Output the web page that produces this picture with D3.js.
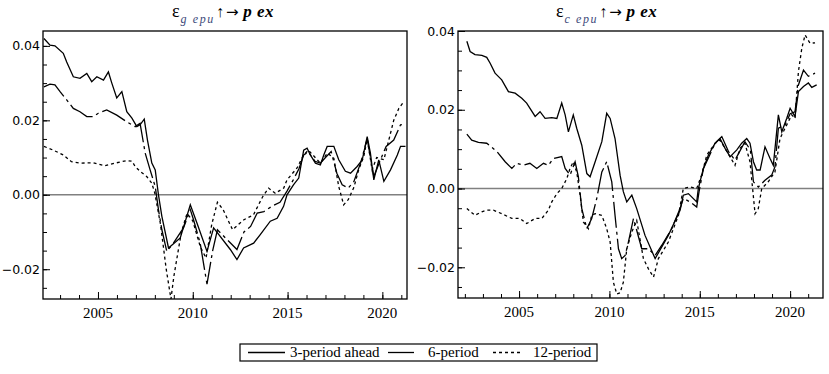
<!DOCTYPE html>
<html>
<head>
<meta charset="utf-8">
<script src="https://cdn.jsdelivr.net/npm/d3@7"></script>
<style>
  body { margin: 0; background: #fff; }
  svg text { fill: #000; }
  .ylab { font-family: "DejaVu Sans", sans-serif; font-size: 12.5px; }
  .xlab { font-family: "Liberation Serif", serif; font-size: 15px; }
  .ttl { font-family: "Liberation Serif", serif; }
  .leg { font-family: "Liberation Serif", serif; font-size: 15px; }
</style>
</head>
<body>
<div id="chart"></div>
<script>
// series: [year, response]
const gSolid = [[2002.15,0.042],[2002.47,0.0402],[2002.73,0.040],[2003.17,0.038],[2003.35,0.0357],[2003.70,0.0317],[2004.05,0.0313],[2004.41,0.0326],[2004.67,0.0304],[2004.94,0.0317],[2005.29,0.0308],[2005.55,0.033],[2005.73,0.030],[2005.99,0.026],[2006.26,0.0277],[2006.52,0.0223],[2006.79,0.0206],[2007.05,0.0183],[2007.22,0.0188],[2007.44,0.0203],[2007.61,0.0147],[2007.84,0.0085],[2008.02,0.0067],[2008.19,0.0],[2008.37,-0.0058],[2008.72,-0.0143],[2009.34,-0.0116],[2009.87,-0.0027],[2010.22,-0.0076],[2010.75,-0.0152],[2011.10,-0.0089],[2011.98,-0.0147],[2012.33,-0.0174],[2012.68,-0.0143],[2013.21,-0.013],[2013.56,-0.0107],[2014.09,-0.0071],[2014.45,-0.0063],[2014.79,-0.0031],[2014.97,0],[2015.32,0.0027],[2015.59,0.0045],[2015.85,0.012],[2016.03,0.0125],[2016.20,0.0107],[2016.47,0.0085],[2016.73,0.008],[2016.91,0.0107],[2017.09,0.013],[2017.44,0.013],[2017.70,0.0094],[2018.05,0.0063],[2018.32,0.0058],[2018.67,0.0076],[2018.94,0.0094],[2019.20,0.0156],[2019.37,0.0112],[2019.55,0.004],[2019.81,0.0094],[2020.08,0.0036],[2020.43,0.0067],[2020.79,0.0107],[2020.96,0.013],[2021.22,0.013]]
const gDash = [[2002.15,0.029],[2002.47,0.0297],[2002.73,0.0295],[2003.0,0.0277],[2003.35,0.0255],[2003.70,0.0232],[2004.05,0.0223],[2004.41,0.021],[2004.76,0.021],[2005.02,0.0219],[2005.46,0.0228],[2005.99,0.0214],[2006.52,0.0196],[2006.96,0.0183],[2007.22,0.0192],[2007.49,0.0112],[2007.75,0.0067],[2008.02,0.0022],[2008.19,-0.004],[2008.37,-0.0094],[2008.63,-0.0152],[2008.98,-0.013],[2009.51,-0.0089],[2009.87,-0.004],[2010.04,-0.0067],[2010.39,-0.013],[2010.75,-0.024],[2011.05,-0.015],[2011.3,-0.0094],[2011.8,-0.012],[2012.33,-0.0147],[2012.7,-0.01],[2013.05,-0.0085],[2013.4,-0.0049],[2013.75,-0.0045],[2014.2,-0.003],[2014.6,-0.002],[2014.97,0.001],[2015.3,0.004],[2015.6,0.007],[2015.85,0.0107],[2016.1,0.0115],[2016.45,0.009],[2016.73,0.0085],[2017.0,0.01],[2017.3,0.0116],[2017.6,0.0058],[2017.88,0.0027],[2018.2,0.0018],[2018.5,0.0036],[2018.85,0.0085],[2019.2,0.015],[2019.55,0.0049],[2019.9,0.0094],[2020.2,0.013],[2020.6,0.0147],[2020.96,0.0188],[2021.2,0.019]]
const gDot = [[2002.15,0.013],[2002.64,0.012],[2003.17,0.0107],[2003.6,0.0089],[2004.05,0.0085],[2004.76,0.0086],[2005.38,0.0078],[2005.9,0.0085],[2006.52,0.0092],[2006.8,0.009],[2006.96,0.0076],[2007.22,0.0063],[2007.57,0.0049],[2007.84,0.0031],[2008.0,0.0004],[2008.3,-0.008],[2008.6,-0.02],[2008.85,-0.028],[2009.0,-0.022],[2009.4,-0.01],[2009.7,-0.005],[2010.0,-0.007],[2010.4,-0.014],[2010.7,-0.017],[2011.0,-0.008],[2011.3,-0.002],[2011.6,-0.004],[2012.1,-0.0094],[2012.4,-0.008],[2012.7,-0.0067],[2013.2,-0.0054],[2013.7,-0.0004],[2014.0,0.0018],[2014.35,0.0004],[2014.8,0.0018],[2014.97,0.004],[2015.5,0.0072],[2015.85,0.0107],[2016.1,0.012],[2016.73,0.0085],[2017.1,0.0112],[2017.44,0.0098],[2017.7,0.0022],[2017.96,-0.0027],[2018.2,-0.0013],[2018.5,0.002],[2018.75,0.0067],[2019.02,0.0103],[2019.2,0.015],[2019.46,0.0067],[2019.7,0.01],[2020.08,0.0094],[2020.34,0.0147],[2020.6,0.02],[2020.87,0.0232],[2021.13,0.025]]

const cSolid = [[2002.11,0.0374],[2002.29,0.0348],[2002.56,0.034],[2002.94,0.0338],[2003.21,0.0333],[2003.40,0.0318],[2003.67,0.0293],[2004.04,0.0276],[2004.41,0.0246],[2004.78,0.0242],[2005.15,0.0229],[2005.42,0.0217],[2005.89,0.0183],[2006.16,0.0195],[2006.44,0.0178],[2006.81,0.018],[2007.09,0.0178],[2007.36,0.0217],[2007.55,0.0187],[2007.73,0.0144],[2008.0,0.0187],[2008.19,0.0153],[2008.47,0.011],[2008.75,0.0038],[2008.93,0.003],[2009.21,0.0068],[2009.58,0.0119],[2009.85,0.0191],[2010.04,0.0178],[2010.31,0.0127],[2010.59,0.0034],[2010.77,-0.0008],[2010.96,-0.0034],[2011.24,-0.0017],[2011.51,-0.0051],[2011.97,-0.0119],[2012.53,-0.0178],[2013.26,-0.0119],[2013.91,-0.0055],[2014.09,-0.0017],[2014.37,-0.0013],[2014.83,-0.0034],[2014.92,0],[2015.2,0.0051],[2015.48,0.0085],[2015.85,0.0115],[2016.12,0.0127],[2016.4,0.0102],[2016.68,0.0081],[2017.05,0.0098],[2017.32,0.0115],[2017.6,0.0127],[2017.78,0.0115],[2017.97,0.0068],[2018.15,0.0047],[2018.34,0.0047],[2018.61,0.0106],[2018.89,0.0076],[2019.07,0.0059],[2019.35,0.0187],[2019.54,0.0144],[2019.81,0.0178],[2020.0,0.0204],[2020.27,0.0183],[2020.46,0.0246],[2020.74,0.0259],[2021.01,0.0268],[2021.2,0.0257],[2021.47,0.0263]]
const cDash = [[2002.11,0.0138],[2002.38,0.0123],[2002.75,0.0117],[2003.21,0.0115],[2003.77,0.0094],[2004.23,0.0068],[2004.6,0.0051],[2004.87,0.0064],[2005.24,0.0059],[2005.6,0.0064],[2005.98,0.0051],[2006.35,0.0064],[2006.62,0.0059],[2006.9,0.0076],[2007.36,0.0081],[2007.55,0.0051],[2007.82,0.0034],[2008.1,0.0068],[2008.28,0.003],[2008.47,-0.0051],[2008.75,-0.0102],[2009.02,-0.0076],[2009.3,-0.0025],[2009.58,0.0042],[2009.85,0.0068],[2010.13,0.0017],[2010.31,-0.0068],[2010.5,-0.0153],[2010.68,-0.0178],[2010.87,-0.017],[2011.05,-0.0136],[2011.33,-0.0076],[2011.79,-0.0153],[2012.16,-0.0153],[2012.53,-0.017],[2012.9,-0.0144],[2013.45,-0.0102],[2013.91,-0.0051],[2014.09,-0.0025],[2014.46,-0.0034],[2014.83,-0.0047],[2014.96,-0.0008],[2015.2,0.005],[2015.85,0.0115],[2016.22,0.0132],[2016.6,0.0093],[2016.95,0.0072],[2017.5,0.0119],[2017.8,0.0098],[2017.97,0.0017],[2018.24,0.0004],[2018.61,0.0021],[2018.98,0.0034],[2019.16,0.0055],[2019.35,0.0153],[2019.72,0.0161],[2020.0,0.019],[2020.27,0.0195],[2020.46,0.0263],[2020.74,0.0301],[2021.01,0.0285],[2021.38,0.0293]]
const cDot = [[2002.11,-0.0051],[2002.56,-0.0068],[2002.94,-0.0059],[2003.21,-0.0055],[2003.58,-0.0055],[2004.04,-0.0064],[2004.6,-0.0076],[2005.05,-0.0076],[2005.42,-0.0089],[2005.89,-0.0076],[2006.26,-0.0076],[2006.62,-0.0055],[2006.81,-0.0034],[2007.09,-0.0013],[2007.36,0],[2007.64,0.0025],[2007.82,0.0051],[2008.0,0.0068],[2008.19,0.0042],[2008.38,-0.0017],[2008.56,-0.0085],[2008.84,-0.0102],[2009.02,-0.0068],[2009.21,-0.0064],[2009.58,-0.0068],[2009.85,-0.0102],[2010.04,-0.0136],[2010.22,-0.0238],[2010.41,-0.0268],[2010.59,-0.0265],[2010.77,-0.0238],[2010.96,-0.0153],[2011.24,-0.011],[2011.51,-0.0081],[2011.88,-0.0178],[2012.16,-0.0204],[2012.44,-0.0225],[2012.71,-0.0178],[2013.26,-0.0136],[2013.82,-0.0068],[2014.09,0],[2014.46,0.0004],[2014.83,0],[2015.1,0.0034],[2015.39,0.0085],[2015.85,0.0115],[2016.12,0.0123],[2016.4,0.0102],[2016.95,0.0059],[2017.23,0.0102],[2017.5,0.0115],[2017.78,0.0068],[2018.06,-0.0064],[2018.24,-0.0051],[2018.43,0],[2018.79,0.0017],[2019.16,0.0042],[2019.44,0.0127],[2019.72,0.0153],[2020.09,0.0187],[2020.27,0.0178],[2020.46,0.0297],[2020.65,0.0357],[2020.83,0.039],[2021.1,0.0369],[2021.38,0.037]]

const yTicksMajor = [-0.02, 0.0, 0.02, 0.04]
const xTicksMajor = [2005, 2010, 2015, 2020]
const legendLabels = ['3-period ahead', '6-period', '12-period']
const dashes = [null, '26,4,3,4', '3,3']

const W = 829, H = 374

let svg = d3.select('#chart').append('svg')
  .attr('width', W).attr('height', H)

function drawPanel (opt) {
  let x = d3.scaleLinear().domain(opt.xDomain).range([opt.left, opt.right])
  let y = d3.scaleLinear().domain(opt.yDomain).range([opt.bottom, opt.top])
  let g = svg.append('g')

  // zero line
  g.append('line')
    .attr('x1', opt.left).attr('x2', opt.right)
    .attr('y1', y(0)).attr('y2', y(0))
    .attr('stroke', '#808080').attr('stroke-width', 1.5)

  // series
  let line = d3.line().x(d => x(d[0])).y(d => y(d[1]))
  opt.series.forEach((s, i) => {
    g.append('path')
      .datum(s)
      .attr('d', line)
      .attr('fill', 'none')
      .attr('stroke', '#000')
      .attr('stroke-width', 1.3)
      .attr('stroke-dasharray', dashes[i])
  })

  // y axis: minor ticks every 0.005, labels on 0.02
  let yMinor = d3.range(-0.025, opt.yDomain[1] + 1e-9, 0.005)
    .filter(v => v >= opt.yDomain[0])
  g.append('g').attr('transform', `translate(${opt.left},0)`)
    .call(d3.axisRight(y).tickValues(yMinor).tickSize(4).tickFormat(''))
    .call(a => a.select('.domain').remove())
    .call(a => a.selectAll('line').attr('stroke', '#000'))
  g.append('g').attr('transform', `translate(${opt.left},0)`)
    .call(d3.axisRight(y).tickValues(yTicksMajor).tickSize(7).tickFormat(''))
    .call(a => a.select('.domain').remove())
    .call(a => a.selectAll('line').attr('stroke', '#000'))
  yTicksMajor.forEach(v => {
    g.append('text').classed('ylab', true)
      .attr('x', opt.left - 3).attr('y', y(v) + 4.5)
      .attr('text-anchor', 'end')
      .text(d3.format('.2f')(v))
  })

  // x axis: yearly minor ticks, labels every 5 years
  let years = d3.range(Math.ceil(opt.xDomain[0]), opt.xDomain[1])
  g.append('g').attr('transform', `translate(0,${opt.bottom})`)
    .call(d3.axisTop(x).tickValues(years).tickSize(4).tickFormat(''))
    .call(a => a.select('.domain').remove())
    .call(a => a.selectAll('line').attr('stroke', '#000'))
  g.append('g').attr('transform', `translate(0,${opt.bottom})`)
    .call(d3.axisTop(x).tickValues(xTicksMajor).tickSize(7).tickFormat(''))
    .call(a => a.select('.domain').remove())
    .call(a => a.selectAll('line').attr('stroke', '#000'))
  xTicksMajor.forEach(v => {
    g.append('text').classed('xlab', true)
      .attr('x', x(v)).attr('y', opt.bottom + 19)
      .attr('text-anchor', 'middle')
      .text(v)
  })

  // frame
  g.append('rect')
    .attr('x', opt.left).attr('y', opt.top)
    .attr('width', opt.right - opt.left).attr('height', opt.bottom - opt.top)
    .attr('fill', 'none').attr('stroke', '#000').attr('stroke-width', 1.3)

  // title
  let t = g.append('text').classed('ttl', true)
    .attr('x', opt.titleX).attr('y', 17)
  t.append('tspan').attr('font-size', 18).text('ε')
  t.append('tspan').attr('font-size', 12).attr('font-style', 'italic')
    .attr('letter-spacing', 1.6)
    .attr('fill', '#3d4a7a').attr('dy', 6).attr('dx', 1).text(opt.sub)
  t.append('tspan').attr('font-size', 16).attr('dy', -6).attr('dx', 1)
    .text('↑')
  t.append('tspan').attr('font-size', 15).attr('font-family', 'DejaVu Sans')
    .attr('dx', 2).text('→ ')
  t.append('tspan').attr('font-size', 17).attr('font-style', 'italic')
    .attr('font-weight', 'bold').attr('letter-spacing', 0.5).text('p ex')
}

drawPanel({
  left: 43, right: 407, top: 31, bottom: 299,
  xDomain: [2002.1, 2021.3], yDomain: [-0.028, 0.044],
  series: [gSolid, gDash, gDot],
  sub: 'g epu', titleX: 172
})

drawPanel({
  left: 458, right: 823, top: 31, bottom: 298,
  xDomain: [2001.62, 2021.82], yDomain: [-0.0278, 0.040],
  series: [cSolid, cDash, cDot],
  sub: 'c epu', titleX: 556
})

// legend
let lg = svg.append('g')
lg.append('rect')
  .attr('x', 240).attr('y', 344).attr('width', 357).attr('height', 17)
  .attr('fill', 'none').attr('stroke', '#000').attr('stroke-width', 1.2)
let legX = [[248, 285, 290], [388, 418, 428], [493, 520, 533]]
legendLabels.forEach((lab, i) => {
  lg.append('line')
    .attr('x1', legX[i][0]).attr('x2', legX[i][1])
    .attr('y1', 352.5).attr('y2', 352.5)
    .attr('stroke', '#000').attr('stroke-width', 1.3)
    .attr('stroke-dasharray', dashes[i])
  lg.append('text').classed('leg', true)
    .attr('x', legX[i][2]).attr('y', 357)
    .text(lab)
})
</script>
</body>
</html>
